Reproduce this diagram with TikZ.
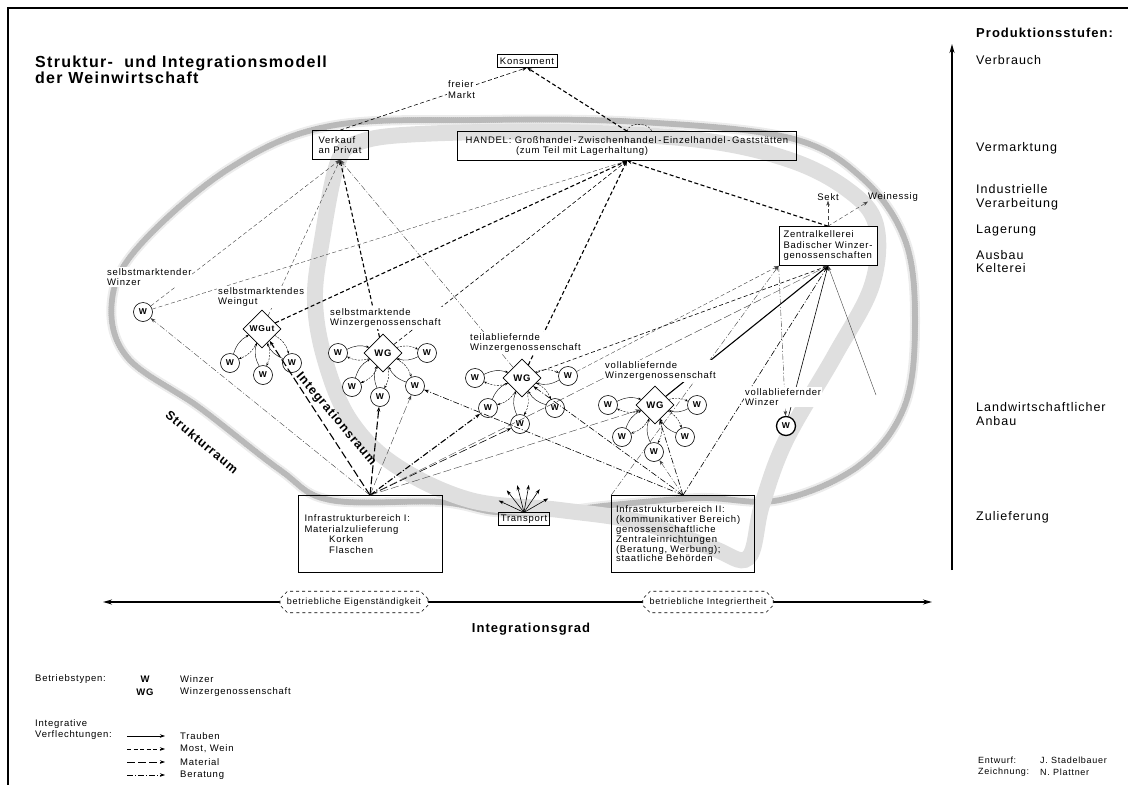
\documentclass[tikz,border=0pt]{standalone}
\usepackage{fontspec}
\setmainfont{Liberation Sans}[LetterSpace=8]
\usetikzlibrary{positioning,shapes.geometric,shapes.misc,arrows.meta}

\tikzset{
  kasten/.style={shape=rectangle,draw=black,line width=0.7pt,inner sep=3pt,align=left,font=\fontsize{9.5}{10.5}\selectfont},
  winzer/.style={shape=circle,draw=black,fill=white,line width=0.6pt,minimum size=19pt,inner sep=0pt,font=\bfseries\fontsize{8.5}{8.5}\selectfont},
  genoss/.style={shape=diamond,draw=black,fill=white,line width=0.7pt,minimum size=38pt,inner sep=0pt,font=\bfseries\fontsize{9.5}{9.5}\selectfont},
  marke/.style={anchor=west,align=left,inner sep=1pt,fill=white,font=\fontsize{9.5}{10.5}\selectfont},
  schrift/.style={anchor=west,align=left,inner sep=0pt,font=\fontsize{9.5}{10.5}\selectfont},
  stufe/.style={anchor=west,align=left,inner sep=0pt,font=\fontsize{12.5}{13.5}\selectfont},
  raum/.style={font=\bfseries\fontsize{12.5}{12.5}\selectfont,inner sep=0pt},
  traube/.style={arrows={-Stealth[length=5pt,width=3.5pt]},line width=0.6pt},
  most/.style={traube,dash pattern=on 4pt off 2.5pt},
  material/.style={traube,dash pattern=on 8pt off 3pt},
  beratung/.style={traube,dash pattern=on 6pt off 2pt on 1pt off 2pt},
  klein/.style={arrows={-Stealth[length=3pt,width=2.4pt]},line width=0.4pt},
  fett/.style={line width=1.1pt},
  duenn/.style={line width=0.4pt,draw=black!75},
  band/.style={draw=gray!25,line width=16pt,line cap=round},
  schraffur/.style={postaction={draw=gray!55,line width=6pt,dash pattern=on 0.5pt off 1.5pt}},
  achse/.style={line width=1.8pt,arrows={Stealth[length=9pt,width=5pt]-Stealth[length=9pt,width=5pt]}},
  grad/.style={shape=chamfered rectangle,chamfered rectangle xsep=4pt,draw=black,dashed,fill=white,line width=0.6pt,inner sep=3pt,font=\fontsize{9}{9}\selectfont},
}

% Winzer <-> Genossenschaft, hin und zurueck
\newcommand{\verbund}[2]{%
  \draw[traube,klein] (#1) to[bend left=22] (#2);
  \draw[most,klein,dash pattern=on 2pt off 1.2pt] (#2) to[bend left=22] (#1);
}

\begin{document}
\begin{tikzpicture}[x=1pt,y=-1pt]
  \useasboundingbox (0,0) rectangle (1128,785);
  \draw[line width=1.2pt] (8,785) -- (8,8) -- (1128,8);

  % Strukturraum und Integrationsraum
  \draw[band,line width=10pt,draw=gray!15,schraffur] plot[smooth cycle,tension=0.6] coordinates {(112,300) (127,357) (200,408) (280,470) (330,500) (440,502) (495,512) (552,512) (612,505) (700,498) (780,500) (860,465) (905,405) (915,320) (905,240) (862,178) (790,138) (640,122) (480,120) (330,126) (230,168) (140,245)};
  \draw[band] plot[smooth cycle,tension=0.6] coordinates {(338,162) (322,240) (315,300) (325,360) (350,420) (395,465) (470,500) (560,510) (640,522) (712,548) (748,558) (762,505) (786,440) (835,355) (872,285) (876,225) (848,190) (790,160) (700,140) (560,132) (420,134) (360,142)};
  \node[raum,rotate=-40] (sraum) at (202,442) {Strukturraum};
  \node[raum,rotate=-50] (iraum) at (336,419) {Integrationsraum};

  \node[anchor=west,align=left,inner sep=0pt,font=\bfseries\fontsize{16}{16}\selectfont] (titel) at (35,70) {Struktur-\ \ und Integrationsmodell\\der Weinwirtschaft};

  % Vermarktung
  \node[kasten] (konsument) at (527,61) {Konsument};
  \node[kasten,minimum width=56pt,minimum height=29pt] (verkauf) at (340,145) {Verkauf\\an Privat};
  \node[kasten,minimum width=339pt,minimum height=29pt] (handel) at (627,146) {HANDEL: Großhandel\,-\,Zwischenhandel\,-\,Einzelhandel\,-\,Gaststätten\\\hspace*{5.3em}(zum Teil mit Lagerhaltung)};
  \node[kasten,fill=white,minimum width=98pt,minimum height=39pt] (zk) at (828,246) {Zentralkellerei\\Badischer Winzer-\\genossenschaften};
  \node[schrift,anchor=center] (sekt) at (828,197) {Sekt};
  \node[schrift,anchor=center] (essig) at (893,197) {Weinessig};

  % Betriebe
  \node[winzer] (w1) at (143,312) {W};
  \node[genoss,font=\bfseries\fontsize{8.5}{8.5}\selectfont] (wgut) at (262,329) {WGut};
  \node[winzer] (wa1) at (230,363) {W};
  \node[winzer] (wa2) at (263,375) {W};
  \node[winzer] (wa3) at (292,363) {W};
  \node[genoss] (wg1) at (383,353) {WG};
  \node[winzer] (wb1) at (338,353) {W};
  \node[winzer] (wb2) at (427,353) {W};
  \node[winzer] (wb3) at (352,387) {W};
  \node[winzer] (wb4) at (380,397) {W};
  \node[winzer] (wb5) at (415,386) {W};
  \node[genoss] (wg2) at (522,378) {WG};
  \node[winzer] (wc1) at (475,378) {W};
  \node[winzer] (wc2) at (568,376) {W};
  \node[winzer] (wc3) at (488,408) {W};
  \node[winzer] (wc4) at (520,424) {W};
  \node[winzer] (wc5) at (555,408) {W};
  \node[genoss] (wg3) at (655,405) {WG};
  \node[winzer] (wd1) at (608,405) {W};
  \node[winzer] (wd2) at (697,405) {W};
  \node[winzer] (wd3) at (622,437) {W};
  \node[winzer] (wd4) at (654,452) {W};
  \node[winzer] (wd5) at (685,437) {W};
  \node[winzer,line width=1.3pt] (wv) at (786,426) {W};

  % Zulieferung
  \node[kasten,minimum width=144pt,minimum height=77pt,text width=131pt] (infra1) at (370,534) {Infrastrukturbereich I:\\Materialzulieferung\\\hspace*{2.6em}Korken\\\hspace*{2.6em}Flaschen};
  \node[kasten,inner sep=2pt] (transport) at (524,519) {Transport};
  \node[kasten,minimum width=143pt,minimum height=77pt,text width=134pt,font=\fontsize{9.5}{9.8}\selectfont] (infra2) at (683,534) {Infrastrukturbereich II:\\(kommunikativer Bereich)\\genossenschaftliche\\Zentraleinrichtungen\\(Beratung, Werbung);\\staatliche Behörden};

  % Absatz
  \draw[most] (verkauf.north) -- node[marke,anchor=center,pos=0.65] (markt) {freier\\Markt} (konsument.south);
  \draw[most,fett] (handel.north) -- (konsument.south);
  \coordinate (hb) at (652,132);
  \draw[line width=0.4pt,dash pattern=on 2pt off 1.5pt] (handel.north) to[out=80,in=100] (hb);
  \draw[most,duenn] (w1) -- (verkauf.south);
  \draw[most,duenn] (wgut) -- (verkauf.south);
  \draw[most,fett] (wg1) -- (verkauf.south);
  \draw[beratung,duenn] (wg2) -- (verkauf.south);
  \draw[most,duenn] (w1) -- (handel.south);
  \draw[most,fett] (wgut) -- (handel.south);
  \draw[most] (wg1) -- (handel.south);
  \draw[most,fett] (wg2) -- (handel.south);
  \draw[most,fett] (zk.north) -- (handel.south);
  \draw[most,duenn] (zk.north) -- (sekt.south);
  \draw[most,duenn] (zk.north) -- (essig.south west);

  % Zentralkellerei
  \coordinate (rebland) at (876,395);
  \draw[traube,fett] (wg3) -- (zk.south);
  \draw[traube] (wv) -- (zk.south);
  \draw[traube,duenn] (rebland) -- (zk.south);
  \draw[most] (wg2) -- (zk.south);
  \draw[most,duenn] (wc2) -- (zk.south west);
  \draw[material,duenn] (infra1.north) -- (zk.south);
  \draw[beratung] (infra2.north) -- (zk.south);
  \draw[beratung,duenn] (infra2.north west) -- (zk.south west);
  \draw[beratung,duenn] (zk.south west) -- (wv);

  % Infrastruktur
  \draw[beratung,duenn] (infra1.north) -- (w1);
  \draw[material,fett] (infra1.north) -- (wgut);
  \draw[material,fett] (infra1.north) -- (wb4);
  \draw[material,duenn] (infra1.north) -- (wb5);
  \draw[beratung,fett] (infra1.north) -- (wc3);
  \draw[material] (infra1.north) -- (wc4);
  \draw[material,duenn] (infra1.north) -- (wg3);
  \draw[beratung] (infra2.north) -- (wb5);
  \draw[beratung] (infra2.north) -- (wg2);
  \draw[beratung,duenn] (infra2.north) -- (wd4);
  \draw[beratung] (infra2.north) -- (wg3);
  \foreach \a [count=\i] in {155,128,104,80,56,30} {
    \path (transport.north) ++(\a:28pt) coordinate (t\i);
    \draw[traube] (transport.north) -- (t\i);
  }

  % W <-> WG
  \verbund{wa1}{wgut} \verbund{wa2}{wgut} \verbund{wa3}{wgut}
  \verbund{wb1}{wg1} \verbund{wb2}{wg1} \verbund{wb3}{wg1} \verbund{wb4}{wg1} \verbund{wb5}{wg1}
  \verbund{wc1}{wg2} \verbund{wc2}{wg2} \verbund{wc3}{wg2} \verbund{wc4}{wg2} \verbund{wc5}{wg2}
  \verbund{wd1}{wg3} \verbund{wd2}{wg3} \verbund{wd3}{wg3} \verbund{wd4}{wg3} \verbund{wd5}{wg3}

  % Bezeichnungen
  \node[marke] (l1) at (106,277) {selbstmarktender\\Winzer};
  \node[marke] (l2) at (217,297) {selbstmarktendes\\Weingut};
  \node[marke] (l3) at (329,318) {selbstmarktende\\Winzergenossenschaft};
  \node[marke] (l4) at (469,343) {teilabliefernde\\Winzergenossenschaft};
  \node[marke] (l5) at (604,371) {vollabliefernde\\Winzergenossenschaft};
  \node[marke] (l6) at (744,397) {vollabliefernder\\Winzer};

  % Produktionsstufen
  \coordinate (sa) at (952,570);
  \coordinate (se) at (952,44);
  \draw[line width=1.5pt,arrows={-Stealth[length=9pt,width=5pt]}] (sa) -- (se);
  \node[stufe,font=\bfseries\fontsize{13}{13}\selectfont] (ps) at (976,33) {Produktionsstufen:};
  \node[stufe] (s1) at (976,60) {Verbrauch};
  \node[stufe] (s2) at (976,148) {Vermarktung};
  \node[stufe] (s3) at (976,197.5) {Industrielle\\Verarbeitung};
  \node[stufe] (s4) at (976,230) {Lagerung};
  \node[stufe] (s5) at (976,261.5) {Ausbau\\Kelterei};
  \node[stufe] (s6) at (976,414) {Landwirtschaftlicher\\Anbau};
  \node[stufe] (s7) at (976,517) {Zulieferung};

  % Integrationsgrad
  \coordinate (gl) at (103,602);
  \coordinate (gr) at (932,602);
  \draw[achse] (gl) -- (gr);
  \node[grad] (eig) at (354,602) {betriebliche Eigenständigkeit};
  \node[grad] (integ) at (708,602) {betriebliche Integriertheit};
  \node[font=\bfseries\fontsize{13}{13}\selectfont] (igrad) at (531,629) {Integrationsgrad};

  % Legende
  \node[schrift] (bt) at (35,679) {Betriebstypen:};
  \node[font=\bfseries\fontsize{9.5}{9.5}\selectfont,inner sep=0pt] (lw) at (145,679) {W};
  \node[schrift] (lw2) at (180,679) {Winzer};
  \node[font=\bfseries\fontsize{9.5}{9.5}\selectfont,inner sep=0pt] (lwg) at (145,692) {WG};
  \node[schrift] (lwg2) at (180,692) {Winzergenossenschaft};
  \node[schrift] (iv) at (35,729.5) {Integrative\\Verflechtungen:};
  \coordinate (la1) at (127,736); \coordinate (lb1) at (165,736);
  \coordinate (la2) at (127,749); \coordinate (lb2) at (165,749);
  \coordinate (la3) at (127,762); \coordinate (lb3) at (165,762);
  \coordinate (la4) at (127,775); \coordinate (lb4) at (165,775);
  \draw[traube] (la1) -- (lb1);
  \draw[most] (la2) -- (lb2);
  \draw[material] (la3) -- (lb3);
  \draw[beratung] (la4) -- (lb4);
  \node[schrift] (v1) at (180,736) {Trauben};
  \node[schrift] (v2) at (180,749) {Most, Wein};
  \node[schrift] (v3) at (180,762) {Material};
  \node[schrift] (v4) at (180,775) {Beratung};

  \node[schrift,font=\fontsize{9}{9}\selectfont] (ew) at (978,760) {Entwurf:};
  \node[schrift,font=\fontsize{9}{9}\selectfont] (ew2) at (1040,760) {J. Stadelbauer};
  \node[schrift,font=\fontsize{9}{9}\selectfont] (zn) at (978,772) {Zeichnung:};
  \node[schrift,font=\fontsize{9}{9}\selectfont] (zn2) at (1040,772) {N. Plattner};
\end{tikzpicture}
\end{document}
